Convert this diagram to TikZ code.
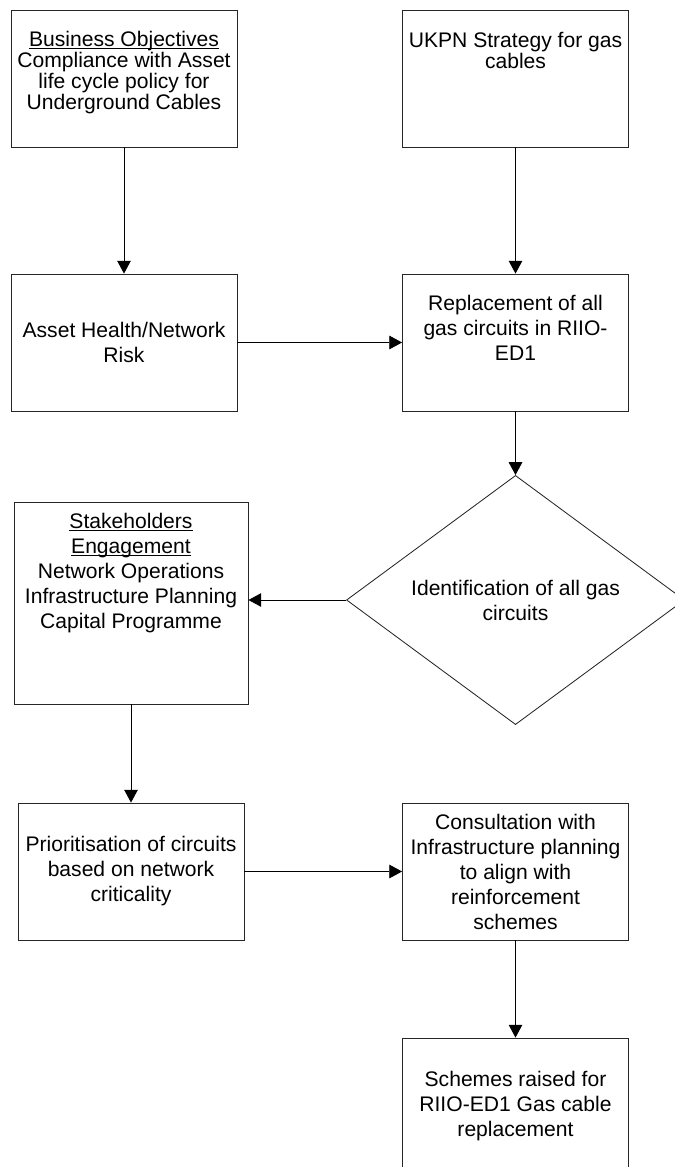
\documentclass[tikz,border=0pt]{standalone}
\usepackage{fontspec}
\setmainfont{Liberation Sans}
\usetikzlibrary{arrows.meta,shapes.geometric}
\newcommand{\undl}[1]{\setbox0\hbox{#1}\rlap{\rule[-1.8pt]{\wd0}{0.55pt}}\box0}

\begin{document}
\begin{tikzpicture}[x=0.25mm,y=-0.25mm,>={Triangle[length=3.2mm,width=3.4mm]},
  font=\fontsize{15}{17.8}\selectfont,
  box/.style={draw=black!85,line width=0.6pt,rectangle,align=center,inner sep=0pt,
    minimum width=56.5mm,minimum height=34.25mm},
  tight/.style={font=\fontsize{15}{14.9}\selectfont},
  decision/.style={draw=black!85,line width=0.6pt,diamond,align=center,inner sep=0pt,
    minimum width=84.5mm,minimum height=41.25mm},
  flow/.style={->,line width=0.6pt}]
\useasboundingbox (0,0) rectangle (674,1167);
% upper row
\node[box,tight,text depth=4.1mm] (objectives) at (124,78.5)
  {\undl{Business Objectives}\\Compliance with Asset\\life cycle policy for\\Underground Cables};
\node[box,tight,text depth=14.1mm] (strategy) at (515.5,78.5) {UKPN Strategy for gas\\cables};
\node[box] (health) at (124,342.5) {Asset Health/Network\\Risk};
\node[box,text depth=7.4mm] (replace) at (515.5,342.5) {Replacement of all\\gas circuits in RIIO-\\ED1};
% decision and stakeholders
\node[decision] (identify) at (515.5,600) {Identification of all gas\\circuits};
\node[box,minimum width=58.5mm,minimum height=50.5mm,text depth=16.1mm] (stake) at (131,603)
  {\undl{Stakeholders}\\\undl{Engagement}\\Network Operations\\Infrastructure Planning\\Capital Programme};
% lower row
\node[box] (prior) at (131,871.5) {Prioritisation of circuits\\based on network\\criticality};
\node[box] (consult) at (515.5,871.5) {Consultation with\\Infrastructure planning\\to align with\\reinforcement\\schemes};
\node[box] (schemes) at (515.5,1106.5) {Schemes raised for\\RIIO-ED1 Gas cable\\replacement};
% connectors
\draw[flow] (objectives) -- (health);
\draw[flow] (strategy) -- (replace);
\draw[flow] (health) -- (replace);
\draw[flow] (replace) -- (identify);
\draw[flow] (identify.west) -- (identify.west -| stake.east);
\draw[flow] (stake) -- (prior);
\draw[flow] (prior) -- (consult);
\draw[flow] (consult) -- (schemes);
\end{tikzpicture}
\end{document}
